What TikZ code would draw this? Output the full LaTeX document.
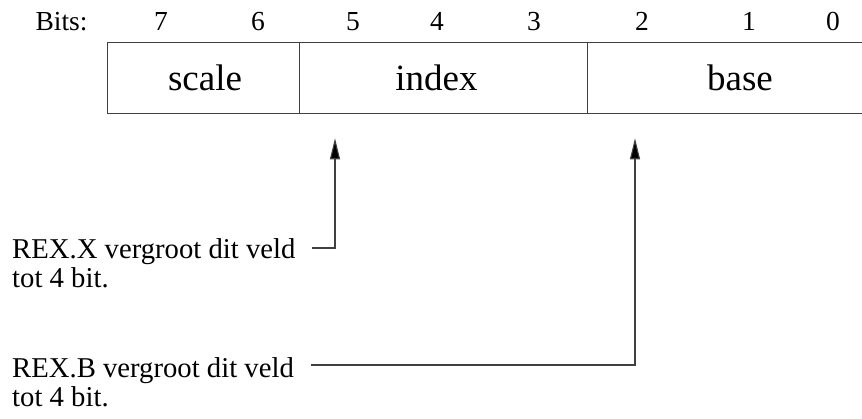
\documentclass[tikz,border=0pt]{standalone}
\usepackage{fontspec}
\setmainfont{Liberation Serif}
\usetikzlibrary{arrows.meta}

\tikzset{
  field/.style={draw=black!75, line width=1.1pt, rectangle, inner sep=0pt,
                anchor=north west, minimum height=71.6pt},
  fieldtext/.style={font=\fontsize{37}{40}\selectfont, inner sep=0pt, anchor=base},
  bitnum/.style={font=\fontsize{27.5}{30}\selectfont, inner sep=0pt, anchor=base},
  note/.style={font=\fontsize{28.7}{29}\selectfont, inner sep=0pt, anchor=base west},
  pointer/.style={draw=black!75, line width=1.1pt,
                  -{Triangle[length=21pt,width=10pt,fill=black]}},
}

\begin{document}
\begin{tikzpicture}[x=1pt, y=-1pt]
  \useasboundingbox (0,0) rectangle (862,418);

  % bit numbers above the byte
  \node[bitnum] (bits) at (61.5,30) {Bits:};
  \node[bitnum] (b7) at (161,30) {7};
  \node[bitnum] (b6) at (258,30) {6};
  \node[bitnum] (b5) at (353,30) {5};
  \node[bitnum] (b4) at (437,30) {4};
  \node[bitnum] (b3) at (534,30) {3};
  \node[bitnum] (b2) at (642,30) {2};
  \node[bitnum] (b1) at (749,30) {1};
  \node[bitnum] (b0) at (833,30) {0};

  % the SIB byte split into its three fields
  \node[field, minimum width=192.3pt] (scale) at (106.7,41.7) {};
  \node[field, minimum width=287.7pt] (index) at (299,41.7) {};
  \node[field, minimum width=280pt]   (base)  at (586.7,41.7) {};

  \node[fieldtext] (tscale) at (205,90.5) {scale};
  \node[fieldtext] (tindex) at (436.5,90.5) {index};
  \node[fieldtext] (tbase)  at (740,90.5) {base};

  % notes on the REX prefix bits
  \node[note] (remx)  at (12,258) {REX.X vergroot dit veld};
  \node[note] (remxb) at (12,287) {tot 4 bit.};
  \node[note] (remb)  at (12,377) {REX.B vergroot dit veld};
  \node[note] (rembb) at (12,406) {tot 4 bit.};

  % pointers from the notes up to the fields
  \coordinate (fromx) at (312,248);
  \coordinate (tox)   at (335,138.3);
  \coordinate (fromb) at (310.7,365);
  \coordinate (tob)   at (635,138.3);

  \draw[pointer] (fromx) -| (tox);
  \draw[pointer] (fromb) -| (tob);
\end{tikzpicture}
\end{document}
